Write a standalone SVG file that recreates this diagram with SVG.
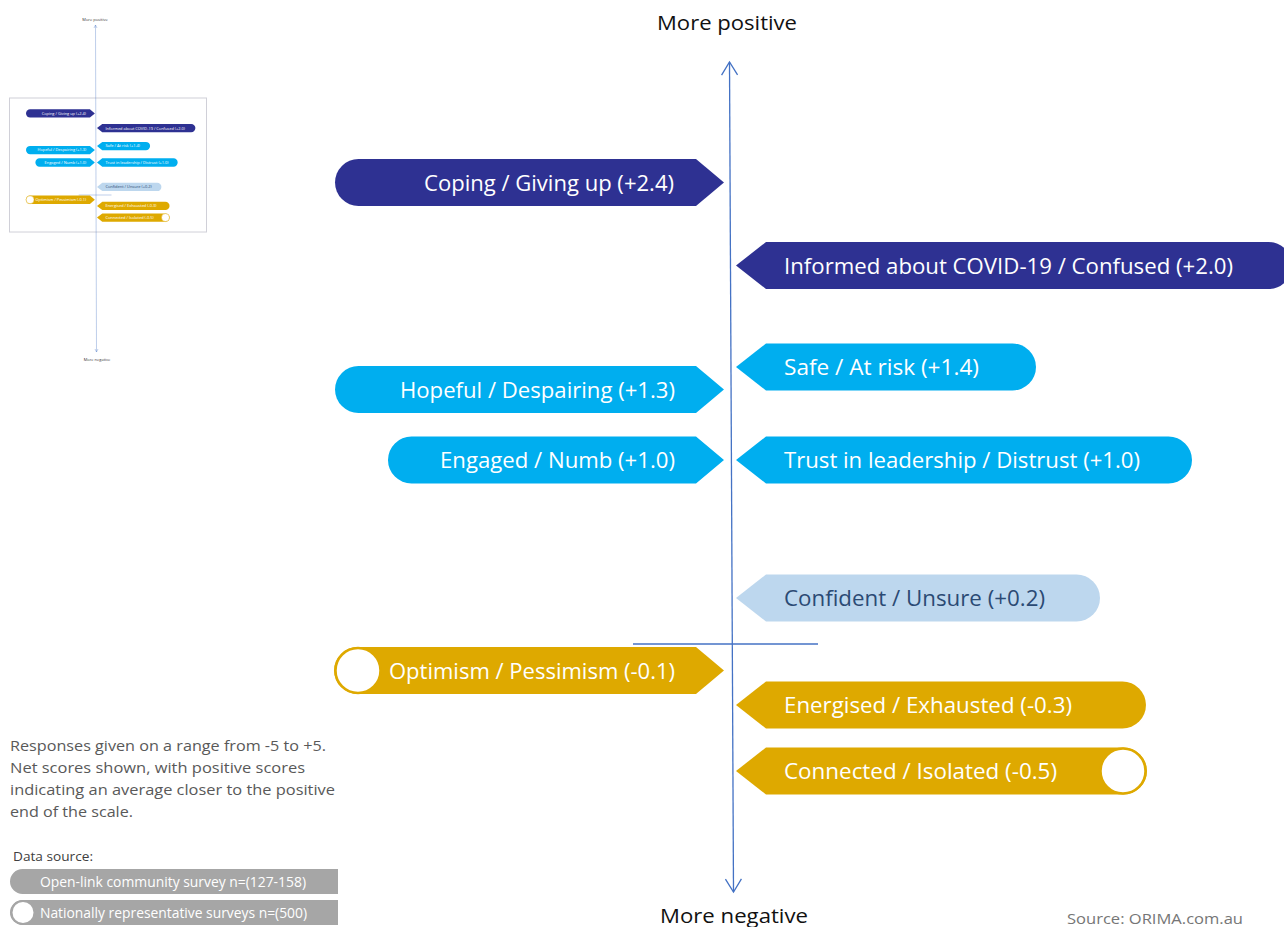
<svg xmlns="http://www.w3.org/2000/svg" xmlns:xlink="http://www.w3.org/1999/xlink" width="1284" height="927" viewBox="0 0 1284 927">
  <style>
    .lbl{font-family:"Open Sans","Liberation Sans",sans-serif;font-size:22px;fill:#ffffff}
    .lblL{text-anchor:end}
    .navy{fill:#2E3192}
    .blue{fill:#00AEEF}
    .pale{fill:#BDD7EE}
    .gold{fill:#DEA900}
    .ring{fill:#ffffff;stroke:#DEA900;stroke-width:2.5}
    .axis{stroke:#4472C4;stroke-width:1.3;fill:none}
    .ax-t{font-family:"Open Sans","Liberation Sans",sans-serif;font-size:20px;fill:#111111;text-anchor:middle}
    .note{font-family:"Open Sans","Liberation Sans",sans-serif;font-size:14.5px;fill:#595959}
    .leg{font-family:"Open Sans","Liberation Sans",sans-serif;font-size:14px;fill:#ffffff}
    .legbar{fill:#A6A6A6}
    .thumb-ax{stroke:#4472C4;stroke-width:0.5;fill:none;opacity:0.7}
    .thumb-t{font-family:"Open Sans","Liberation Sans",sans-serif;font-size:4px;fill:#333333;text-anchor:middle}
  </style>
  <defs>
    <marker id="arr" viewBox="0 0 16 20" refX="14" refY="10" markerWidth="16" markerHeight="20" markerUnits="userSpaceOnUse" orient="auto-start-reverse">
      <path d="M1,2 L14,10 L1,18" fill="none" stroke="#4472C4" stroke-width="1.3"/>
    </marker>
  </defs>
  <rect width="1284" height="927" fill="#ffffff"/>

  <!-- connectors / axes -->
  <g id="connectors">
    <line class="axis" x1="729.5" y1="62" x2="733.5" y2="892" marker-start="url(#arr)" marker-end="url(#arr)"/>
    <line class="axis" x1="633" y1="644" x2="818" y2="644"/>
  </g>

  <g id="axis-labels">
    <text class="ax-t" x="727" y="30" textLength="140" lengthAdjust="spacingAndGlyphs">More positive</text>
    <text class="ax-t" x="734" y="923" textLength="148" lengthAdjust="spacingAndGlyphs">More negative</text>
  </g>

  <g id="nodes">
    <g id="n-coping">
      <path class="navy" d="M358.5,159 H696 L724,182.5 L696,206 H358.5 A23.5,23.5 0 0 1 358.5,159 Z"/>
      <text class="lbl lblL" x="674" y="190.5" textLength="250" lengthAdjust="spacingAndGlyphs">Coping / Giving up (+2.4)</text>
    </g>
    <g id="n-informed">
      <path class="navy" d="M766,242 H1268.5 A23.5,23.5 0 0 1 1268.5,289 H766 L736,265.5 Z"/>
      <text class="lbl" x="784" y="273.5" textLength="449" lengthAdjust="spacingAndGlyphs">Informed about COVID-19 / Confused (+2.0)</text>
    </g>
    <g id="n-safe">
      <path class="blue" d="M766,343.5 H1012.5 A23.5,23.5 0 0 1 1012.5,390.5 H766 L736,367 Z"/>
      <text class="lbl" x="784" y="375" textLength="195" lengthAdjust="spacingAndGlyphs">Safe / At risk (+1.4)</text>
    </g>
    <g id="n-hopeful">
      <path class="blue" d="M358.5,366 H696 L724,389.5 L696,413 H358.5 A23.5,23.5 0 0 1 358.5,366 Z"/>
      <text class="lbl lblL" x="675" y="397.5" textLength="275" lengthAdjust="spacingAndGlyphs">Hopeful / Despairing (+1.3)</text>
    </g>
    <g id="n-engaged">
      <path class="blue" d="M411.5,436.5 H696 L724,460 L696,483.5 H411.5 A23.5,23.5 0 0 1 411.5,436.5 Z"/>
      <text class="lbl lblL" x="675" y="468" textLength="235" lengthAdjust="spacingAndGlyphs">Engaged / Numb (+1.0)</text>
    </g>
    <g id="n-trust">
      <path class="blue" d="M766,436.5 H1168.5 A23.5,23.5 0 0 1 1168.5,483.5 H766 L736,460 Z"/>
      <text class="lbl" x="784" y="468" textLength="356" lengthAdjust="spacingAndGlyphs">Trust in leadership / Distrust (+1.0)</text>
    </g>
    <g id="n-confident">
      <path class="pale" d="M766,574.5 H1076.5 A23.5,23.5 0 0 1 1076.5,621.5 H766 L736,598 Z"/>
      <text class="lbl" x="784" y="606" textLength="261" lengthAdjust="spacingAndGlyphs" style="fill:#2B4A74">Confident / Unsure (+0.2)</text>
    </g>
    <g id="n-optimism">
      <path class="gold" d="M357.5,647 H696 L724,670.5 L696,694 H357.5 A23.5,23.5 0 0 1 357.5,647 Z"/>
      <circle class="ring" cx="358" cy="670.5" r="22.5"/>
      <text class="lbl lblL" x="675" y="678.5" textLength="286" lengthAdjust="spacingAndGlyphs">Optimism / Pessimism (-0.1)</text>
    </g>
    <g id="n-energised">
      <path class="gold" d="M766,681.5 H1122.5 A23.5,23.5 0 0 1 1122.5,728.5 H766 L736,705 Z"/>
      <text class="lbl" x="784" y="713" textLength="288" lengthAdjust="spacingAndGlyphs">Energised / Exhausted (-0.3)</text>
    </g>
    <g id="n-connected">
      <path class="gold" d="M766,747.5 H1123.5 A23.5,23.5 0 0 1 1123.5,794.5 H766 L736,771 Z"/>
      <circle class="ring" cx="1123" cy="771" r="22.5"/>
      <text class="lbl" x="784" y="779" textLength="273" lengthAdjust="spacingAndGlyphs">Connected / Isolated (-0.5)</text>
    </g>
  </g>

  <g id="note">
    <text class="note" x="10" y="751" textLength="316" lengthAdjust="spacingAndGlyphs">Responses given on a range from -5 to +5.</text>
    <text class="note" x="10" y="773" textLength="295" lengthAdjust="spacingAndGlyphs">Net scores shown, with positive scores</text>
    <text class="note" x="10" y="795" textLength="325" lengthAdjust="spacingAndGlyphs">indicating an average closer to the positive</text>
    <text class="note" x="10" y="817" textLength="123" lengthAdjust="spacingAndGlyphs">end of the scale.</text>
  </g>

  <g id="legend">
    <text x="13" y="861" style="font-family:'Open Sans','Liberation Sans',sans-serif;font-size:13px;fill:#404040" textLength="80" lengthAdjust="spacingAndGlyphs">Data source:</text>
    <g id="leg-open">
      <path class="legbar" d="M22.5,869 H338 V894 H22.5 A12.5,12.5 0 0 1 22.5,869 Z"/>
      <text class="leg" x="40" y="886.5" textLength="266" lengthAdjust="spacingAndGlyphs">Open-link community survey n=(127-158)</text>
    </g>
    <g id="leg-national">
      <path class="legbar" d="M22.5,900 H338 V925 H22.5 A12.5,12.5 0 0 1 22.5,900 Z"/>
      <circle cx="23" cy="912.5" r="11.5" fill="#ffffff" stroke="#A6A6A6" stroke-width="2"/>
      <text class="leg" x="40" y="917.5" textLength="267" lengthAdjust="spacingAndGlyphs">Nationally representative surveys n=(500)</text>
    </g>
  </g>

  <text x="1067" y="924" style="font-family:'Open Sans','Liberation Sans',sans-serif;font-size:14.5px;fill:#767676" textLength="176" lengthAdjust="spacingAndGlyphs">Source: ORIMA.com.au</text>

  <!-- thumbnail -->
  <g id="thumbnail">
    <rect x="9.5" y="98" width="197" height="134" fill="none" stroke="#D0D0D8" stroke-width="1"/>
    <line class="thumb-ax" x1="95.5" y1="25" x2="96.5" y2="352"/>
    <polyline class="thumb-ax" points="94,28 95.5,25 97,28"/>
    <polyline class="thumb-ax" points="95,349 96.5,352 98,349"/>
    <line class="thumb-ax" x1="78.7" y1="195" x2="111.5" y2="195"/>
    <text class="thumb-t" x="95" y="21">More positive</text>
    <text class="thumb-t" x="97" y="361">More negative</text>
    <use xlink:href="#nodes" href="#nodes" transform="matrix(0.177,0,0,0.177,-33.3,81.1)"/>
  </g>
</svg>
